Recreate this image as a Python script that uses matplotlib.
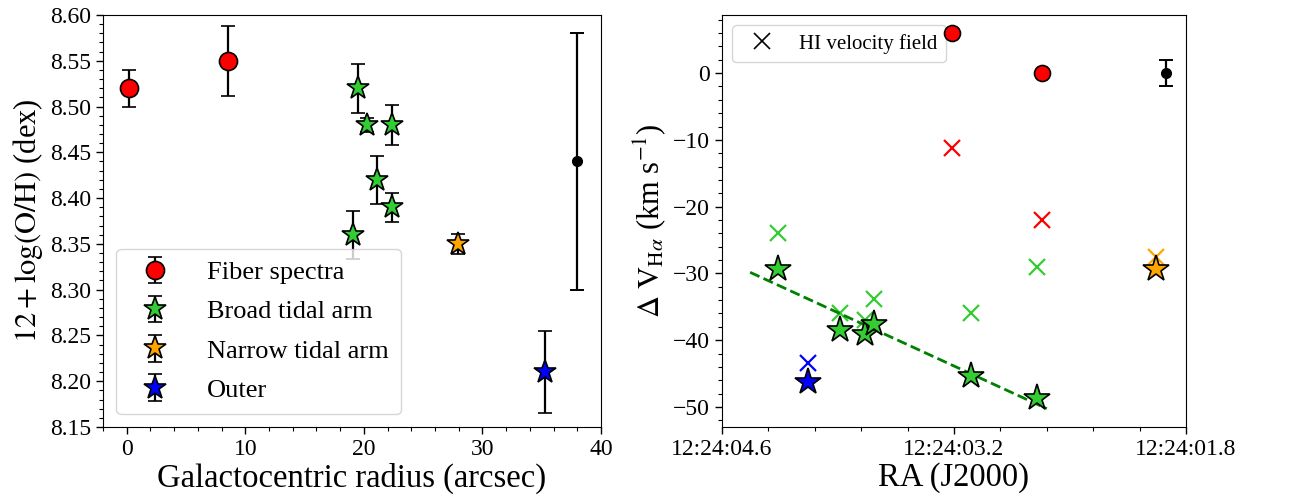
import numpy as np
import matplotlib
matplotlib.use("Agg")
import matplotlib.pyplot as plt
from matplotlib.ticker import MultipleLocator, FixedLocator

plt.rcParams['font.family'] = ['Liberation Serif', 'DejaVu Serif']
plt.rcParams['mathtext.fontset'] = 'stix'

# ---------------- Left panel data ----------------
fiber_r = [0.2, 8.5]
fiber_oh = [8.52, 8.55]
fiber_err = [0.02, 0.038]

broad_r = [19.5, 20.3, 22.4, 21.1, 22.35, 19.1]
broad_oh = [8.52, 8.48, 8.48, 8.42, 8.39, 8.36]
broad_err = [0.027, 0.008, 0.022, 0.026, 0.016, 0.026]

narrow_r = [27.9]
narrow_oh = [8.35]
narrow_err = [0.011]

outer_r = [35.25]
outer_oh = [8.21]
outer_err = [0.045]

typ_r = [38.0]
typ_oh = [8.44]
typ_err = [0.14]

# ---------------- Right panel data ----------------
# RA seconds (12:24:ss.s)
ra_major = [4.6, 3.2, 1.8]
ra_labels = ['12:24:04.6', '12:24:03.2', '12:24:01.8']

fiber_ra = [3.21, 2.67]
fiber_dv = [6.0, 0.0]
fiber_hi = [-11.2, -22.0]

broad_ra = [4.26, 3.89, 3.735, 3.68, 3.10, 2.70]
broad_dv = [-29.4, -38.5, -39.1, -37.6, -45.3, -48.6]
broad_hi = [-24.0, -35.9, -37.0, -33.9, -36.0, -29.0]

narrow_ra = [1.98]
narrow_dv = [-29.4]
narrow_hi = [-27.6]

outer_ra = [4.08]
outer_dv = [-46.2]
outer_hi = [-43.4]

typ_ra = [1.92]
typ_dv = [0.0]
typ_dverr = [2.0]

fit_ra_range = [4.43, 2.64]

RED = '#ff0000'
GREEN = '#33cc33'
ORANGE = '#ffa500'
BLUE = '#0000ff'

fig = plt.figure(figsize=(12.98, 4.98), dpi=100)
ax1 = fig.add_axes([0.0794, 0.1426, 0.3836, 0.8273])
ax2 = fig.add_axes([0.5562, 0.1426, 0.3575, 0.8273])

ekw = dict(ecolor='black', elinewidth=1.6, capsize=5, capthick=1.4, linestyle='none',
           markeredgecolor='black', markeredgewidth=1.2)
ax1.errorbar(fiber_r, fiber_oh, yerr=fiber_err, fmt='o', color=RED, ms=13, label='Fiber spectra', **ekw)
ax1.errorbar(broad_r, broad_oh, yerr=broad_err, fmt='*', color=GREEN, ms=17, label='Broad tidal arm', **ekw)
ax1.errorbar(narrow_r, narrow_oh, yerr=narrow_err, fmt='*', color=ORANGE, ms=17, label='Narrow tidal arm', **ekw)
ax1.errorbar(outer_r, outer_oh, yerr=outer_err, fmt='*', color=BLUE, ms=17, label='Outer', **ekw)
ax1.errorbar(typ_r, typ_oh, yerr=typ_err, fmt='o', color='black', ms=7, ecolor='black',
             elinewidth=1.6, capsize=5, capthick=1.4)

ax1.set_xlim(-2, 40)
ax1.set_ylim(8.15, 8.60)
ax1.xaxis.set_major_locator(MultipleLocator(10))
ax1.xaxis.set_minor_locator(MultipleLocator(2))
ax1.yaxis.set_major_locator(MultipleLocator(0.05))
ax1.yaxis.set_minor_locator(MultipleLocator(0.01))
ax1.set_xlabel('Galactocentric radius (arcsec)', fontsize=23.5, labelpad=2)
ax1.set_ylabel(r'$12+\log(\mathrm{O/H})$ (dex)', fontsize=22)
ax1.tick_params(labelsize=17)
leg1 = ax1.legend(loc='lower left', fontsize=19, handletextpad=1.0, borderpad=0.45,
                  labelspacing=0.6, bbox_to_anchor=(0.0, 0.0))

# Right panel
ax2.plot(fiber_ra, fiber_hi, 'x', color=RED, ms=12, mew=1.6, linestyle='none')
ax2.plot(broad_ra, broad_hi, 'x', color=GREEN, ms=12, mew=1.6, linestyle='none')
ax2.plot(narrow_ra, narrow_hi, 'x', color=ORANGE, ms=12, mew=1.6, linestyle='none')
ax2.plot(outer_ra, outer_hi, 'x', color=BLUE, ms=12, mew=1.6, linestyle='none')

coef = np.polyfit(broad_ra, broad_dv, 1)
fx = np.array(fit_ra_range)
ax2.plot(fx, np.polyval(coef, fx), '--', color='#008000', lw=2)

ax2.plot(fiber_ra, fiber_dv, 'o', color=RED, ms=11.5, mec='black', mew=1.2, linestyle='none', zorder=6)
ax2.plot(broad_ra, broad_dv, '*', color=GREEN, ms=20, mec='black', mew=1.2, linestyle='none')
ax2.plot(narrow_ra, narrow_dv, '*', color=ORANGE, ms=20, mec='black', mew=1.2, linestyle='none')
ax2.plot(outer_ra, outer_dv, '*', color=BLUE, ms=20, mec='black', mew=1.2, linestyle='none')
ax2.errorbar(typ_ra, typ_dv, yerr=typ_dverr, fmt='o', color='black', ms=7, ecolor='black',
             elinewidth=1.6, capsize=5, capthick=1.4)

ax2.plot([], [], 'x', color='black', ms=12, mew=1.2, linestyle='none', label='HI velocity field')
ax2.legend(loc='upper left', fontsize=15, handletextpad=0.8, borderpad=0.4)

ax2.set_xlim(ra_major[0], ra_major[-1])
ax2.set_ylim(-53, 8.7)
ax2.xaxis.set_major_locator(FixedLocator(ra_major))
ax2.set_xticklabels(ra_labels)
ax2.xaxis.set_minor_locator(FixedLocator(np.linspace(ra_major[0], ra_major[-1], 11)))
ax2.yaxis.set_major_locator(MultipleLocator(10))
ax2.yaxis.set_minor_locator(MultipleLocator(2))
ax2.set_xlabel('RA (J2000)', fontsize=23.5, labelpad=2)
ax2.set_ylabel(r'$\Delta\ \mathrm{V}_{\mathrm{H}\alpha}$ (km s$^{-1}$)', fontsize=22)
ax2.tick_params(labelsize=17)

for ax in (ax1, ax2):
    ax.tick_params(which='major', length=5, width=1)
    ax.tick_params(which='minor', length=3, width=0.8)

fig.savefig('out.png', dpi=100)
